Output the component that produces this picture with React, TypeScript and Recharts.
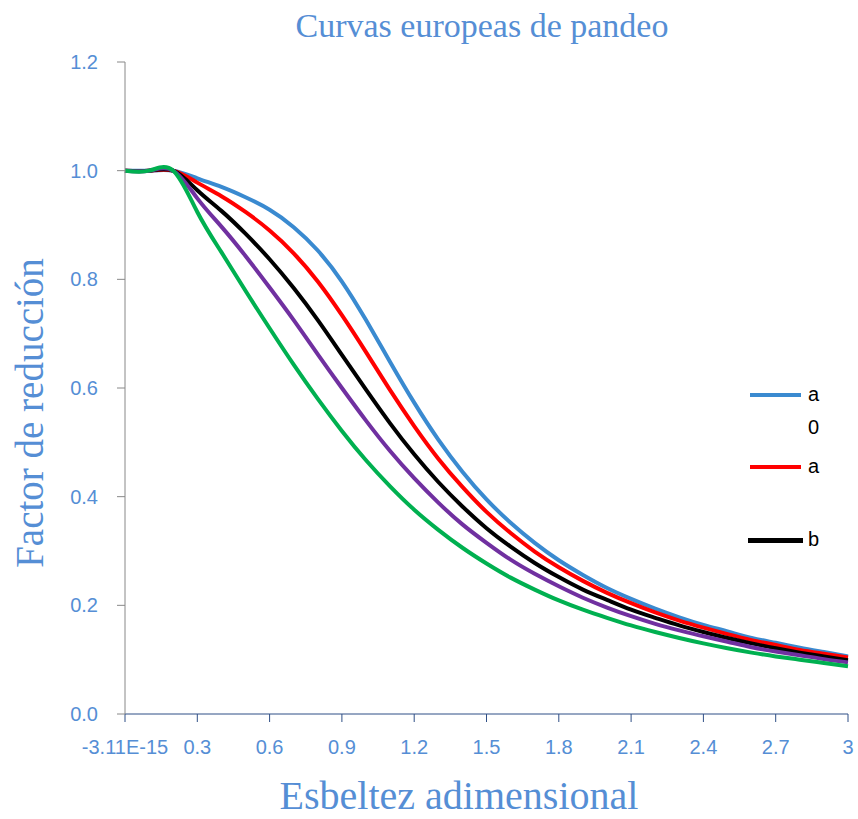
import React from "react";
import { Legend, Line, LineChart, XAxis, YAxis } from "recharts";

// esbeltez adimensional (lambda)
const lambda = [
  0, 0.1, 0.2, 0.3, 0.4, 0.5, 0.6, 0.7, 0.8, 0.9, 1.0, 1.1, 1.2, 1.3, 1.4, 1.5,
  1.6, 1.7, 1.8, 1.9, 2.0, 2.1, 2.2, 2.3, 2.4, 2.5, 2.6, 2.7, 2.8, 2.9, 3.0
];

// factor de reduccion por curva
const curvaA0 = [
  1, 1, 1, 0.986, 0.970, 0.951, 0.928, 0.896, 0.853, 0.796, 0.725, 0.648, 0.573,
  0.505, 0.446, 0.395, 0.352, 0.315, 0.283, 0.256, 0.232, 0.212, 0.194, 0.178,
  0.164, 0.152, 0.140, 0.131, 0.122, 0.114, 0.106
];
const curvaA = [
  1, 1, 1, 0.978, 0.953, 0.924, 0.890, 0.848, 0.796, 0.734, 0.666, 0.596, 0.530,
  0.470, 0.418, 0.372, 0.333, 0.299, 0.270, 0.245, 0.223, 0.204, 0.187, 0.172,
  0.159, 0.147, 0.136, 0.127, 0.118, 0.111, 0.104
];
const curvaB = [
  1, 1, 1, 0.964, 0.926, 0.884, 0.837, 0.784, 0.725, 0.661, 0.597, 0.535, 0.478,
  0.427, 0.382, 0.342, 0.308, 0.278, 0.252, 0.229, 0.210, 0.192, 0.177, 0.163,
  0.151, 0.140, 0.130, 0.121, 0.113, 0.106, 0.099
];
const curvaC = [
  1, 1, 1, 0.949, 0.897, 0.843, 0.785, 0.725, 0.662, 0.600, 0.540, 0.484, 0.434,
  0.389, 0.349, 0.315, 0.284, 0.258, 0.235, 0.214, 0.196, 0.180, 0.166, 0.154,
  0.143, 0.133, 0.123, 0.115, 0.108, 0.101, 0.095
];
const curvaD = [
  1, 1, 1, 0.924, 0.850, 0.779, 0.710, 0.643, 0.580, 0.521, 0.467, 0.419, 0.376,
  0.339, 0.306, 0.277, 0.251, 0.229, 0.209, 0.192, 0.177, 0.163, 0.151, 0.140,
  0.130, 0.121, 0.113, 0.106, 0.100, 0.094, 0.088
];

const xTicks = [0, 0.3, 0.6, 0.9, 1.2, 1.5, 1.8, 2.1, 2.4, 2.7, 3];
const xTickLabels = ["-3.11E-15", "0.3", "0.6", "0.9", "1.2", "1.5", "1.8", "2.1", "2.4", "2.7", "3"];
const yTicks = [0, 0.2, 0.4, 0.6, 0.8, 1.0, 1.2];

const data = lambda.map((x, i) => ({
  x,
  a0: curvaA0[i],
  a: curvaA[i],
  b: curvaB[i],
  c: curvaC[i],
  d: curvaD[i]
}));

const textBlue = "#558ed5";
const serif = "'Liberation Serif', serif";
const sans = "'Liberation Sans', sans-serif";

function XTick(props: any) {
  const { x, y, index } = props;
  return (
    <text x={x} y={y} dy={30} textAnchor="middle" fill={textBlue} fontSize={20} fontFamily={sans}>
      {xTickLabels[index]}
    </text>
  );
}

// leyenda recortada como en el original: "a" / "0" / "a" / "b"
function CurvasLegend() {
  const row = (color: string, label: string, top: number, w = 51, left = 5) => (
    <div style={{ position: "absolute", top, left: 0, height: 20, width: 100 }}>
      {color && (
        <div
          style={{
            position: "absolute",
            left,
            top: 8,
            width: w,
            height: color === "#000000" ? 5 : 4,
            background: color
          }}
        />
      )}
      <span style={{ position: "absolute", left: 63, top: -2, fontSize: 20, color: "#000" }}>{label}</span>
    </div>
  );
  return (
    <div style={{ position: "relative", width: 100, height: 180, fontFamily: sans }}>
      {row("#3a8ad0", "a", 0)}
      {row("", "0", 33)}
      {row("#ff0000", "a", 72)}
      {row("#000000", "b", 145, 55, 3)}
    </div>
  );
}

export default function App() {
  return (
    <div style={{ position: "absolute", left: 0, top: 0, width: 858, height: 819, background: "#fff" }}>
      <div
        style={{
          position: "absolute",
          top: 1,
          left: 0,
          width: 858,
          textAlign: "center",
          paddingLeft: 106,
          boxSizing: "border-box",
          fontFamily: serif,
          fontSize: 34,
          color: textBlue,
          lineHeight: "50px"
        }}
      >
        Curvas europeas de pandeo
      </div>
      <LineChart width={858} height={819} data={data} margin={{ top: 62, right: 10, bottom: 0, left: 0 }}>
        <XAxis
          dataKey="x"
          type="number"
          domain={[0, 3]}
          ticks={xTicks}
          interval={0}
          height={105}
          stroke="#2f4f86"
          tickSize={8}
          tick={<XTick />}
        />
        <YAxis
          domain={[0, 1.2]}
          ticks={yTicks}
          tickFormatter={(v) => Number(v).toFixed(1)}
          width={125}
          stroke="#888888"
          tickSize={8}
          tickMargin={19}
          tick={{ fill: textBlue, fontSize: 20, fontFamily: sans }}
        />
        <Legend
          layout="horizontal"
          verticalAlign="middle"
          align="center"
          content={() => <CurvasLegend />}
          wrapperStyle={{ position: "absolute", left: 745, top: 385, width: 110 }}
        />
        <Line type="natural" dataKey="a0" stroke="#3a8ad0" strokeWidth={4} dot={false} isAnimationActive={false} />
        <Line type="natural" dataKey="a" stroke="#ff0000" strokeWidth={4} dot={false} isAnimationActive={false} />
        <Line type="natural" dataKey="b" stroke="#000000" strokeWidth={4} dot={false} isAnimationActive={false} />
        <Line type="natural" dataKey="c" stroke="#7030a0" strokeWidth={4} dot={false} isAnimationActive={false} />
        <Line type="natural" dataKey="d" stroke="#00b050" strokeWidth={4} dot={false} isAnimationActive={false} />
      </LineChart>
      <div
        style={{
          position: "absolute",
          top: 771,
          left: 0,
          width: 918,
          textAlign: "center",
          fontFamily: serif,
          fontSize: 40,
          color: textBlue,
          lineHeight: "50px"
        }}
      >
        Esbeltez adimensional
      </div>
      <div
        style={{
          position: "absolute",
          left: 30,
          top: 413,
          transform: "translate(-50%, -50%) rotate(-90deg)",
          whiteSpace: "nowrap",
          fontFamily: serif,
          fontSize: 39,
          color: textBlue,
          lineHeight: "40px"
        }}
      >
        Factor de reducción
      </div>
    </div>
  );
}
